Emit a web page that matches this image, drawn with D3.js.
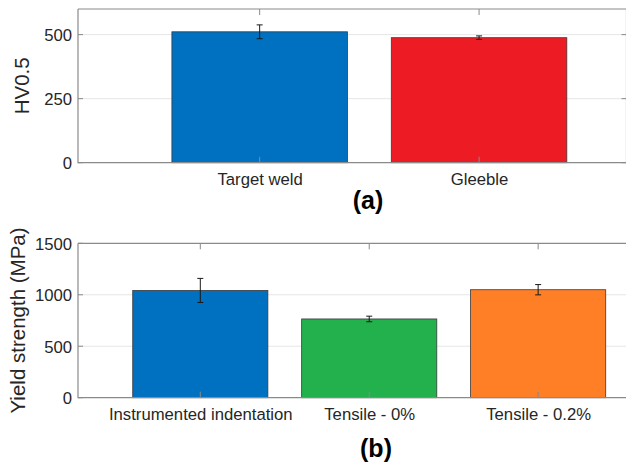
<!DOCTYPE html>
<html>
<head>
  <title>Hardness and yield strength</title>
  <script src="https://cdn.jsdelivr.net/npm/d3@7"></script>
  <style>
    body { margin: 0; background: #fff; }
    svg { display: block; font-family: "Liberation Sans", Arial, sans-serif; }
  </style>
</head>
<body>
  <div id="chart"></div>
  <script>
    // panel (a) - hardness
    const catsA = ["Target weld", "Gleeble"];
    const hvMean = [511, 488];
    const hvErr = [27, 7];
    const yTicksA = [0, 250, 500];
    const colorsA = ["#0070C0", "#ED1C24"];

    // panel (b) - yield strength
    const catsB = ["Instrumented indentation", "Tensile - 0%", "Tensile - 0.2%"];
    const ysMean = [1042, 765, 1049];
    const ysErr = [117, 27, 50];
    const yTicksB = [0, 500, 1000, 1500];
    const colorsB = ["#0070C0", "#22B14C", "#FF7F27"];

    const W = 626, H = 472;
    const svg = d3.select("#chart").append("svg")
      .attr("width", W).attr("height", H);

    function panel(opt) {
      const g = svg.append("g");
      const n = opt.cats.length;
      const x = d3.scaleLinear().domain(opt.xlim).range([opt.left, opt.right]);
      const y = d3.scaleLinear().domain([0, opt.ymax]).range([opt.bottom, opt.top]);
      const idx = d3.range(1, n + 1);
      const bw = x(1.4) - x(0.6);

      // grid
      g.append("g").selectAll("line")
        .data(opt.yTicks.filter(d => d > 0 && d < opt.ymax))
        .join("line")
          .attr("x1", opt.left).attr("x2", opt.right)
          .attr("y1", d => y(d)).attr("y2", d => y(d))
          .attr("stroke", "#e6e6e6").attr("stroke-width", 1);

      // bars
      g.append("g").selectAll("rect")
        .data(opt.mean)
        .join("rect")
          .attr("x", (d, i) => x(i + 1) - bw / 2)
          .attr("width", bw)
          .attr("y", d => y(d))
          .attr("height", d => y(0) - y(d))
          .attr("fill", (d, i) => opt.colors[i])
          .attr("stroke", "#3a3a3a").attr("stroke-width", 0.8);

      // inner ticks (box on)
      const tk = g.append("g").attr("stroke", "#8a8a8a").attr("stroke-width", 1);
      idx.forEach(i => {
        tk.append("line").attr("x1", x(i)).attr("x2", x(i))
          .attr("y1", opt.bottom).attr("y2", opt.bottom - 6);
        tk.append("line").attr("x1", x(i)).attr("x2", x(i))
          .attr("y1", opt.top).attr("y2", opt.top + 6);
      });
      opt.yTicks.forEach(v => {
        tk.append("line").attr("x1", opt.left).attr("x2", opt.left + 5)
          .attr("y1", y(v)).attr("y2", y(v));
        tk.append("line").attr("x1", opt.right).attr("x2", opt.right - 5)
          .attr("y1", y(v)).attr("y2", y(v));
      });

      // error bars
      const eb = g.append("g").attr("stroke", "#1a1a1a").attr("stroke-width", 1);
      opt.mean.forEach((m, i) => {
        const cx = x(i + 1);
        const e = opt.err[i];
        eb.append("line").attr("x1", cx).attr("x2", cx)
          .attr("y1", y(m - e)).attr("y2", y(m + e));
        [m - e, m + e].forEach(v => {
          eb.append("line").attr("x1", cx - 3).attr("x2", cx + 3)
            .attr("y1", y(v)).attr("y2", y(v));
        });
      });

      // axes
      const ax = g.append("g")
        .attr("transform", `translate(0,${opt.bottom})`)
        .call(d3.axisBottom(x).tickValues(idx).tickSize(0)
          .tickFormat(d => opt.cats[d - 1]));
      ax.select(".domain").remove();
      ax.selectAll("text").attr("y", 22).attr("dy", null)
        .attr("font-size", 16.7).attr("fill", "#262626");

      const ay = g.append("g")
        .attr("transform", `translate(${opt.left},0)`)
        .call(d3.axisLeft(y).tickValues(opt.yTicks).tickSize(0).tickPadding(6)
          .tickFormat(d3.format("d")));
      ay.select(".domain").remove();
      ay.selectAll("text").attr("font-size", 16.7).attr("fill", "#262626")
        .attr("dy", "0.36em");

      // box lines
      g.append("path")
        .attr("d", `M${opt.left},${opt.top}H${opt.right + 20}M${opt.left},${opt.top}V${opt.bottom}H${opt.right + 20}M${opt.right},${opt.top}V${opt.bottom}`)
        .attr("fill", "none").attr("stroke", "#8a8a8a").attr("stroke-width", 1.2);

      // y label
      g.append("text")
        .attr("transform", `translate(${opt.ylabX},${(opt.top + opt.bottom) / 2}) rotate(-90)`)
        .attr("text-anchor", "middle")
        .attr("font-size", 20.5).attr("fill", "#262626")
        .text(opt.ylabel);

      // panel tag
      g.append("text")
        .attr("x", opt.tagX).attr("y", opt.tagY)
        .attr("text-anchor", "middle")
        .attr("font-size", 25).attr("font-weight", "bold").attr("fill", "#000")
        .text(opt.tag);
    }

    panel({
      cats: catsA, mean: hvMean, err: hvErr, yTicks: yTicksA, colors: colorsA,
      ymax: 600, xlim: [0.172, 2.672],
      left: 78, right: 626.5, top: 9, bottom: 162.7,
      ylabel: "HV0.5", ylabX: 28.5, tag: "(a)", tagX: 368, tagY: 209
    });

    panel({
      cats: catsB, mean: ysMean, err: ysErr, yTicks: yTicksB, colors: colorsB,
      ymax: 1500, xlim: [0.276, 3.6],
      left: 78, right: 639.5, top: 243.3, bottom: 397.7,
      ylabel: "Yield strength (MPa)", ylabX: 24.5, tag: "(b)", tagX: 376, tagY: 457
    });
  </script>
</body>
</html>
